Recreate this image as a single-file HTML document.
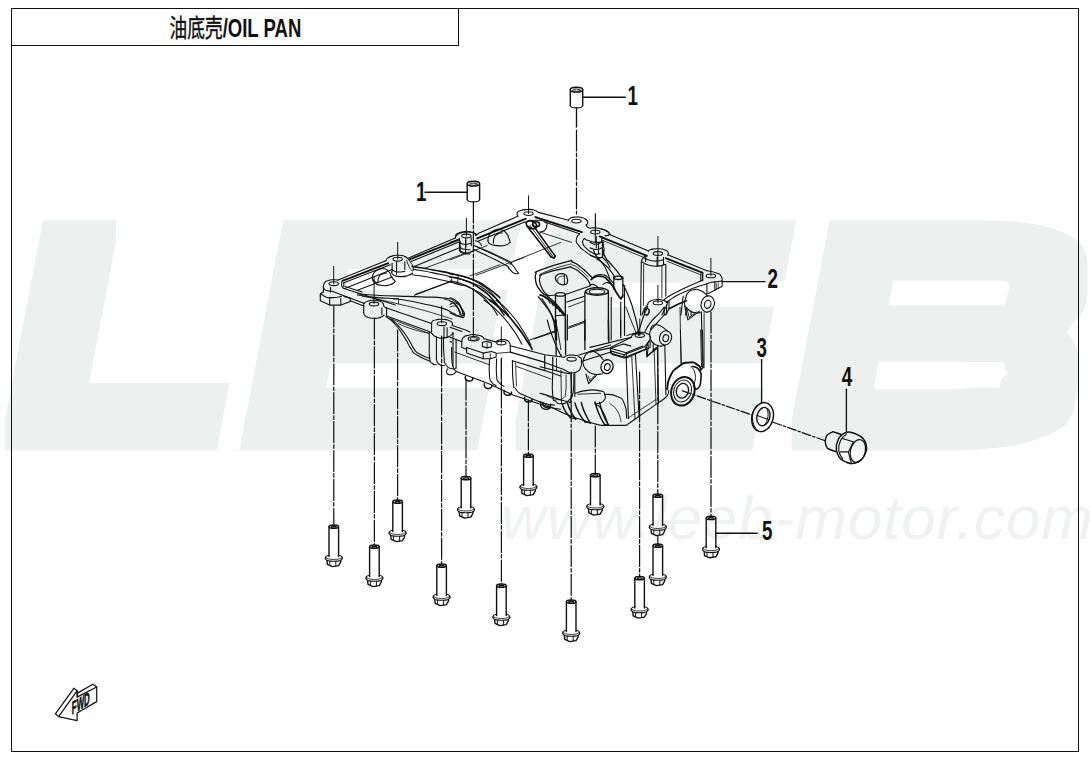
<!DOCTYPE html>
<html lang="zh"><head><meta charset="utf-8"><title>油底壳/OIL PAN</title>
<style>
html,body{margin:0;padding:0;background:#fff;}
body{width:1090px;height:760px;overflow:hidden;position:relative;font-family:"Liberation Sans","Noto Sans CJK SC",sans-serif;}
svg{position:absolute;left:0;top:0;display:block;}
</style></head><body>
<svg width="1090" height="760" viewBox="0 0 1090 760">
<rect width="1090" height="760" fill="#fff"/>
<g id="watermark">
<filter id="fat" filterUnits="userSpaceOnUse" x="-60" y="180" width="1260" height="310"><feMorphology operator="dilate" radius="4 14.65"/></filter>
<g filter="url(#fat)"><g transform="translate(0,435.35) skewX(-10.76) scale(1.56,1)"><text x="-13.8 140.1 313.5 490.4" y="0" font-family="Liberation Sans, sans-serif" font-weight="bold" font-size="291" fill="#eef0f0">LEEB</text></g></g>
<polygon points="89.2,382.7 229.6,382.7 228.2,390 87.8,390" fill="#eef0f0"/>
<polygon points="120.0,220.5 283.0,220.5 239.4,450.0 216.8,450.0 229.6,382.7 89.2,382.7" fill="#fff"/>
<polygon points="521.4,218.5 553.9,218.5 509.5,452.0 477.0,452.0" fill="#fff"/>
<polygon points="796.4,218.5 829.8,218.5 785.4,452.0 752.0,452.0" fill="#fff"/>
<path d="M1066.5,331.7 C1072,336 1077,345 1079,360 C1080,375 1078,395 1073.6,410 C1069,424 1058,439 1043,445.5 C1036,448.5 1030,450 1022,450.6 L1022,456 L1096,456 L1096,318 L1077,318 Z" fill="#fff"/>
<polygon points="330.8,363.5 494.8,363.5 490.3,387.6 326.3,387.6" fill="#fff"/>
<polygon points="601.3,363.5 769.8,363.5 765.3,387.6 596.8,387.6" fill="#fff"/>
<polygon points="616.6,283.0 785.1,283.0 780.6,307.0 612.1,307.0" fill="#fff"/>
<polygon points="774.3,306.0 780.8,306.0 769.7,364.0 763.2,364.0" fill="#fff"/>
<path d="M893.5,280.7 L1004,280.7 Q1011,281 1009.5,286 L1004.8,305.4 L888.6,305.4 Z" fill="#fff"/>
<path d="M878.7,362 L1000,362 Q1006.5,362.3 1005,367 L999.6,387.7 L873.8,387.7 Z" fill="#fff"/>
<polygon points="502.5,289.0 509.0,289.0 494.7,364.0 488.2,364.0" fill="#fff"/>
<polygon points="336.9,289.5 507.9,289.5 504.8,306.0 333.8,306.0" fill="#eef0f0"/>
<polygon points="348.8,269.0 512.8,269.0 508.8,290.0 344.8,290.0" fill="#fff"/>
<text x="501" y="538.5" font-family="Liberation Sans, sans-serif" font-style="italic" font-size="62" fill="#f0f1f1" textLength="592" lengthAdjust="spacing">www.leeb-motor.com</text>
</g>
<g id="frame" fill="none" stroke="#111" stroke-width="1.3" shape-rendering="crispEdges">
<rect x="11.5" y="8.5" width="1067" height="743"/>
<polyline points="11.5,45.5 458.5,45.5 458.5,8.5"/>
</g>
<g id="title" transform="translate(169.5,36.7) scale(0.695,1)"><text x="0" y="0" font-family="Liberation Sans, Noto Sans CJK SC, sans-serif" font-size="26.7" font-weight="bold" fill="#111"><tspan font-weight="normal" font-size="25.5" stroke="#111" stroke-width="0.45">油底壳</tspan>/OIL PAN</text></g>
<g id="drawing" fill="none" stroke="#111" stroke-width="1.2" stroke-linecap="round" stroke-linejoin="round">
<path d="M323.4,286.6C323.8,285.4 323.0,284.9 324.5,282.9C326.1,280.9 325.1,281.6 328.2,280.6C331.2,279.5 330.4,279.9 333.7,279.8C337.0,279.6 336.6,280.0 338.1,280.1" fill="none" stroke-width="1.10"/>
<polyline points="338.1,280.1 385.8,260.8" fill="none" stroke-width="1.10"/>
<path d="M385.8,260.8C386.5,259.9 385.6,259.7 387.7,258.1C389.8,256.6 388.8,257.0 392.1,256.1C395.5,255.1 393.7,255.3 397.7,255.3C401.6,255.3 400.7,255.0 404.0,256.1C407.3,257.1 406.4,257.7 407.6,258.5" fill="none" stroke-width="1.10"/>
<polyline points="407.6,258.5 411.1,256.9 455.3,237.9" fill="none" stroke-width="1.10"/>
<path d="M455.3,237.9C455.9,237.0 455.1,236.8 456.9,235.1C458.8,233.4 457.7,233.9 460.9,232.9C464.0,231.9 462.4,232.2 466.4,232.1C470.3,232.0 469.3,231.8 472.7,232.5C476.1,233.3 475.4,233.8 476.7,234.4" fill="none" stroke-width="1.10"/>
<polyline points="342.4,280.9 389.0,262.9" fill="none" stroke-width="1.83" stroke-dasharray="1.2 0.8"/>
<polyline points="343.8,282.8 390.3,264.8" fill="none" stroke-width="1.10"/>
<polyline points="409.2,259.6 459.3,239.5" fill="none" stroke-width="1.83" stroke-dasharray="1.2 0.8"/>
<polyline points="411.1,261.6 460.1,241.4" fill="none" stroke-width="1.10"/>
<polyline points="344.8,288.5 392.1,269.5" fill="none" stroke-width="1.10"/>
<polyline points="414.3,266.4 460.1,247.4" fill="none" stroke-width="1.10"/>
<path d="M342.4,280.9C342.1,281.8 341.6,281.6 341.6,283.7C341.6,285.8 341.4,285.6 342.4,287.2C343.3,288.8 343.8,288.0 344.4,288.5" fill="none" stroke-width="1.10"/>
<polyline points="343.8,282.8 343.8,286.6" fill="none" stroke-width="1.10"/>
<ellipse cx="333.7" cy="283.7" rx="4.7" ry="1.9" fill="none" stroke-width="1.10"/>
<ellipse cx="397.7" cy="259.2" rx="4.7" ry="1.9" fill="none" stroke-width="1.10"/>
<ellipse cx="466.4" cy="236.0" rx="4.7" ry="1.9" fill="none" stroke-width="1.10"/>
<line x1="333.7" y1="266.4" x2="333.7" y2="283.7" stroke-width="0.98"/>
<line x1="397.7" y1="242.3" x2="397.7" y2="259.2" stroke-width="0.98"/>
<line x1="466.4" y1="218.2" x2="466.4" y2="236.0" stroke-width="0.98"/>
<polyline points="392.1,263.2 392.1,271.9" fill="none" stroke-width="1.10"/>
<polyline points="396.6,261.9 396.6,274.2" fill="none" stroke-width="1.10"/>
<polyline points="404.8,261.9 404.8,269.5" fill="none" stroke-width="1.10"/>
<path d="M391.4,271.9C392.1,272.9 390.8,273.5 393.7,275.0C396.6,276.6 395.3,276.5 400.0,276.6C404.8,276.8 403.7,276.7 407.9,275.5C412.2,274.3 411.1,273.8 412.7,273.0" fill="none" stroke-width="1.10"/>
<path d="M392.1,269.5C393.7,270.3 392.7,271.2 396.9,271.9C401.1,272.5 402.2,271.6 404.8,271.4" fill="none" stroke-width="1.10"/>
<path d="M406.7,260.0C407.2,261.6 406.8,261.6 408.3,264.8C409.7,267.9 409.5,267.5 411.1,269.5C412.7,271.5 412.5,271.8 413.0,270.8C413.5,269.7 413.6,269.3 412.7,266.4C411.8,263.4 411.6,264.1 410.3,261.9C409.0,259.7 409.3,260.5 408.7,259.7" fill="none" stroke-width="0.98"/>
<path d="M372.4,279.0C372.7,277.4 371.6,277.1 373.2,274.2C374.8,271.4 374.0,272.1 377.1,270.3C380.3,268.5 379.0,268.5 382.7,268.7C386.4,269.0 385.3,268.5 388.2,271.1C391.1,273.7 389.3,273.5 391.4,276.6C393.5,279.8 393.5,279.3 394.5,280.6" fill="none" stroke-width="1.10"/>
<path d="M372.4,279.0C373.2,280.3 371.9,280.8 374.8,282.9C377.7,285.0 376.4,284.6 381.1,285.3C385.8,286.0 384.5,286.0 389.0,285.0C393.5,283.9 392.7,283.6 394.5,282.1C396.4,280.7 394.5,281.1 394.5,280.6" fill="none" stroke-width="1.10"/>
<path d="M377.9,282.1C378.2,280.6 377.4,280.0 378.7,277.4C380.0,274.8 379.2,275.7 381.9,274.2C384.5,272.8 385.0,273.4 386.6,273.0" fill="none" stroke-width="1.10"/>
<path d="M373.2,279.8C374.0,280.6 374.0,281.3 375.6,282.1C377.1,283.0 377.1,282.4 377.9,282.5" fill="none" stroke-width="1.10"/>
<polyline points="460.1,241.4 460.1,250.6" fill="none" stroke-width="1.10"/>
<polyline points="465.6,240.3 465.6,252.9" fill="none" stroke-width="1.10"/>
<path d="M459.3,250.2C460.3,251.1 458.9,251.7 462.4,252.9C466.0,254.2 467.5,253.7 470.0,254.0" fill="none" stroke-width="1.10"/>
<path d="M460.1,247.4C461.4,248.0 460.7,248.5 464.0,249.3C467.3,250.1 468.0,249.6 470.0,249.8" fill="none" stroke-width="1.10"/>
<path d="M323.4,286.6C323.8,287.5 323.0,287.9 324.5,289.3C326.1,290.7 325.6,290.2 328.2,290.9C330.7,291.5 330.8,291.2 332.1,291.3" fill="none" stroke-width="1.10"/>
<polyline points="332.1,291.3 364.5,303.5" fill="none" stroke-width="1.10"/>
<polyline points="323.4,286.6 323.4,292.1" fill="none" stroke-width="1.10"/>
<path d="M323.4,292.1C322.5,292.6 321.8,292.4 320.7,293.7C319.7,295.0 320.4,295.3 320.3,296.1" fill="none" stroke-width="1.10"/>
<polyline points="320.3,296.1 320.3,300.8 329.7,305.1 340.8,305.1 350.3,301.6 350.3,298.4 344.0,296.5" fill="none" stroke-width="1.10"/>
<polyline points="329.7,305.1 329.7,297.6" fill="none" stroke-width="1.10"/>
<polyline points="340.8,305.1 340.8,298.4" fill="none" stroke-width="1.10"/>
<path d="M320.7,293.7C322.4,294.7 322.8,295.5 325.8,296.9C328.8,298.2 326.1,297.5 329.7,297.6C333.4,297.8 332.9,297.7 336.9,297.2C340.8,296.6 340.0,296.4 341.6,296.1" fill="none" stroke-width="1.10"/>
<polyline points="330.5,287.4 330.5,292.1" fill="none" stroke-width="1.10"/>
<polyline points="350.3,300.8 363.7,306.0" fill="none" stroke-width="1.10"/>
<ellipse cx="374.0" cy="304.0" rx="4.7" ry="1.9" fill="none" stroke-width="1.10"/>
<path d="M363.7,306.0C364.0,305.0 362.7,304.6 364.5,302.9C366.3,301.1 365.8,301.6 369.2,300.8C372.7,300.0 371.1,300.2 374.8,300.3C378.5,300.5 377.4,300.1 380.3,301.3C383.2,302.5 382.4,303.1 383.5,304.0" fill="none" stroke-width="1.10"/>
<polyline points="363.7,306.0 363.7,313.0" fill="none" stroke-width="1.10"/>
<path d="M363.7,313.0C364.5,314.2 362.9,314.8 366.1,316.6C369.2,318.4 368.5,318.1 373.2,318.3C377.9,318.6 376.6,318.5 380.3,317.4C384.0,316.3 382.9,315.8 384.2,315.0" fill="none" stroke-width="1.10"/>
<polyline points="381.9,307.9 381.9,315.0" fill="none" stroke-width="1.10"/>
<polyline points="386.6,307.9 386.6,315.8" fill="none" stroke-width="1.10"/>
<path d="M383.5,304.0C383.7,304.9 383.2,305.3 384.2,306.7C385.3,308.0 385.8,307.5 386.6,307.9" fill="none" stroke-width="1.10"/>
<polyline points="386.6,307.9 431.6,323.4" fill="none" stroke-width="1.10"/>
<polyline points="386.6,316.1 429.3,331.6" fill="none" stroke-width="1.10"/>
<polyline points="389.0,318.2 428.5,333.2" fill="none" stroke-width="0.85"/>
<polyline points="344.0,288.6 395.3,305.1" fill="none" stroke-width="1.10"/>
<polyline points="345.1,286.6 362.1,292.1" fill="none" stroke-width="1.10"/>
<ellipse cx="441.9" cy="323.7" rx="4.7" ry="1.9" fill="none" stroke-width="1.10"/>
<path d="M431.6,323.4C431.9,322.7 430.9,322.6 432.4,321.3C434.0,320.1 433.0,320.4 436.4,319.8C439.8,319.1 438.5,319.0 442.7,319.3C446.9,319.6 445.9,319.3 449.0,320.6C452.2,321.8 451.1,321.2 452.2,322.9C453.2,324.6 452.2,324.7 452.2,325.6" fill="none" stroke-width="1.10"/>
<polyline points="431.6,323.4 431.6,332.4" fill="none" stroke-width="1.10"/>
<polyline points="444.0,326.9 444.0,337.9" fill="none" stroke-width="1.10"/>
<polyline points="447.1,327.7 447.1,337.1" fill="none" stroke-width="1.10"/>
<path d="M429.3,331.6C430.1,332.1 429.3,331.3 431.6,333.2C434.0,335.0 432.3,335.6 436.4,337.1C440.5,338.7 439.2,338.5 444.0,337.9C448.7,337.4 447.6,337.4 450.6,335.6C453.6,333.7 452.2,333.5 453.0,332.4" fill="none" stroke-width="1.10"/>
<polyline points="452.2,325.6 465.6,330.0 470.0,331.9" fill="none" stroke-width="1.10"/>
<path d="M385.8,316.6C389.0,319.2 389.0,317.4 395.3,324.5C401.6,331.6 399.5,329.8 404.8,337.9C410.1,346.1 406.9,343.2 411.1,349.0C415.3,354.8 411.1,351.2 417.4,355.3C423.7,359.4 425.9,359.3 430.1,361.3" fill="none" stroke-width="1.10"/>
<path d="M391.4,319.3C394.3,322.1 394.3,320.9 400.0,327.7C405.8,334.4 403.9,332.1 408.7,339.5C413.6,346.9 410.6,344.8 414.6,349.8C418.5,354.8 415.5,351.6 420.6,354.5C425.6,357.4 426.7,357.2 429.7,358.5" fill="none" stroke-width="1.10"/>
<path d="M398.5,323.7C403.2,325.6 402.7,326.1 412.7,329.2C422.7,332.4 423.2,331.9 428.5,333.2" fill="none" stroke-width="0.85"/>
<path d="M429.3,332.4C429.3,336.4 429.1,335.6 429.3,344.2C429.4,352.9 428.7,352.0 429.7,358.5C430.8,364.9 430.2,361.4 432.4,363.5C434.6,365.6 435.1,364.4 436.4,364.8" fill="none" stroke-width="1.10"/>
<polyline points="436.4,337.1 436.4,359.3" fill="none" stroke-width="1.10"/>
<path d="M436.4,359.3C437.2,360.8 436.1,361.9 438.8,364.0C441.4,366.1 442.4,365.1 444.3,365.6" fill="none" stroke-width="1.10"/>
<polyline points="453.0,333.2 453.0,366.4" fill="none" stroke-width="1.10"/>
<polyline points="456.1,339.5 456.1,367.9" fill="none" stroke-width="1.10"/>
<path d="M443.5,337.9C443.6,343.7 443.2,346.4 444.0,355.3C444.8,364.3 443.1,360.3 445.9,364.8C448.6,369.3 448.8,367.7 452.2,368.7C455.6,369.8 454.8,368.2 456.1,367.9" fill="none" stroke-width="1.10"/>
<path d="M447.4,368.7C447.2,370.1 446.1,370.7 446.7,372.7C447.2,374.6 446.9,374.1 449.0,374.6C451.1,375.1 450.6,375.2 453.0,374.3C455.3,373.4 455.1,372.7 456.1,371.9" fill="none" stroke-width="1.10"/>
<path d="M357.4,293.7C363.7,294.2 362.7,294.5 376.4,295.3C390.0,296.1 383.7,295.5 398.5,296.1C413.2,296.6 405.3,296.2 420.6,296.9C435.9,297.5 432.7,296.5 444.3,298.1C455.9,299.7 449.8,298.3 455.3,301.6C460.9,304.9 458.2,303.4 460.9,307.9C463.5,312.4 462.4,312.7 463.2,315.0" fill="none" stroke-width="1.10"/>
<path d="M357.4,295.0C364.2,295.9 364.2,296.2 377.9,297.6C391.6,299.1 384.2,297.4 398.5,299.2C412.7,301.1 406.4,300.3 420.6,303.2C434.8,306.1 430.6,304.8 441.1,307.9C451.7,311.1 446.1,309.9 452.2,312.7C458.2,315.4 455.6,315.3 459.3,316.1C463.0,316.9 461.9,315.4 463.2,315.0" fill="none" stroke-width="1.10"/>
<path d="M362.1,296.1C368.5,297.4 369.0,297.4 381.1,300.0C393.2,302.6 385.3,300.8 398.5,304.0C411.6,307.1 406.9,305.8 420.6,309.5C434.3,313.2 429.0,311.9 439.5,315.0C450.1,318.2 448.0,317.7 452.2,319.0" fill="none" stroke-width="0.85"/>
<path d="M444.3,299.2C447.2,300.3 448.2,299.2 453.0,302.4C457.7,305.5 456.1,304.8 458.5,308.7C460.9,312.7 459.6,312.4 460.1,314.2" fill="none" stroke-width="0.85"/>
<polyline points="393.7,299.2 398.5,298.4 398.5,304.0" fill="none" stroke-width="0.85"/>
<polyline points="357.4,290.2 392.1,277.1" fill="none" stroke-width="1.10"/>
<polyline points="414.3,295.3 452.2,281.1" fill="none" stroke-width="1.10"/>
<path d="M455.5,236.4C456.1,235.5 455.0,235.1 457.1,233.7C459.2,232.3 458.4,232.8 461.8,232.1C465.3,231.4 463.7,231.5 467.4,231.7C471.1,231.8 470.0,231.4 472.9,232.6C475.8,233.8 475.0,234.4 476.1,235.3" fill="none" stroke-width="1.10"/>
<polyline points="476.1,235.3 479.2,232.9 517.9,216.3" fill="none" stroke-width="1.10"/>
<path d="M517.9,216.3C517.7,215.3 516.4,215.0 517.1,213.2C517.9,211.3 516.9,212.0 520.3,210.8C523.7,209.6 522.9,209.8 527.4,209.5C531.9,209.3 530.0,209.1 533.7,210.0C537.4,211.0 536.9,211.6 538.5,212.4" fill="none" stroke-width="1.10"/>
<ellipse cx="528.5" cy="213.6" rx="4.7" ry="1.9" fill="none" stroke-width="1.10"/>
<line x1="528.5" y1="195.8" x2="528.5" y2="213.6" stroke-width="0.98"/>
<polyline points="538.5,212.4 568.5,220.3" fill="none" stroke-width="1.10"/>
<path d="M568.5,220.3C569.0,219.6 568.0,219.4 570.1,218.4C572.2,217.3 571.1,217.4 574.8,217.1C578.5,216.8 577.4,216.6 581.1,217.4C584.8,218.2 583.6,217.7 585.9,219.5C588.1,221.2 587.7,220.8 587.8,222.6C587.9,224.5 586.7,224.2 586.2,225.0" fill="none" stroke-width="1.10"/>
<ellipse cx="576.4" cy="221.1" rx="4.7" ry="1.9" fill="none" stroke-width="1.10"/>
<path d="M586.2,225.0C587.1,226.0 586.5,226.9 589.0,227.9C591.5,228.8 589.5,227.5 593.8,227.9C598.0,228.2 596.9,227.5 601.7,229.0C606.4,230.4 605.2,230.3 608.0,232.1C610.8,234.0 609.3,233.7 610.0,234.5" fill="none" stroke-width="1.10"/>
<ellipse cx="595.3" cy="232.1" rx="4.7" ry="1.9" fill="none" stroke-width="1.10"/>
<line x1="595.3" y1="214.0" x2="595.3" y2="242.4" stroke-width="0.98"/>
<polyline points="477.2,238.4 525.8,218.7" fill="none" stroke-width="1.95" stroke-dasharray="1.2 0.8"/>
<polyline points="535.3,217.1 581.9,232.1" fill="none" stroke-width="1.95" stroke-dasharray="1.2 0.8"/>
<polyline points="478.4,241.1 524.2,222.2" fill="none" stroke-width="1.10"/>
<polyline points="544.8,221.9 579.5,233.7" fill="none" stroke-width="1.10"/>
<path d="M487.9,240.8C488.4,238.7 487.4,237.9 489.5,234.5C491.6,231.1 490.5,232.1 494.2,230.5C497.9,229.0 496.6,229.0 500.6,229.8C504.5,230.5 503.2,229.8 506.1,232.9C509.0,236.1 507.9,236.1 509.2,239.2C510.6,242.4 509.8,241.3 510.0,242.4" fill="none" stroke-width="1.10"/>
<path d="M487.9,240.8C488.7,241.9 487.1,242.4 490.3,244.0C493.4,245.6 492.4,245.1 497.4,245.6C502.4,246.0 501.1,246.3 505.3,245.2C509.5,244.2 508.5,243.3 510.0,242.4" fill="none" stroke-width="1.10"/>
<path d="M493.4,243.2C493.7,241.3 492.9,240.7 494.2,237.7C495.6,234.7 494.8,235.8 497.4,234.2C500.0,232.6 500.6,233.3 502.1,232.9" fill="none" stroke-width="1.10"/>
<polyline points="459.5,238.4 459.5,249.5" fill="none" stroke-width="1.10"/>
<polyline points="465.8,238.4 465.8,247.1" fill="none" stroke-width="1.10"/>
<polyline points="471.3,237.7 471.3,245.6" fill="none" stroke-width="1.10"/>
<path d="M459.5,242.4C461.1,243.0 460.3,244.0 464.2,244.3C468.2,244.6 469.0,243.6 471.3,243.2" fill="none" stroke-width="1.10"/>
<path d="M459.5,249.5C460.5,250.4 459.5,251.1 462.6,252.2C465.8,253.2 465.3,253.3 469.0,252.7C472.6,252.0 472.1,251.1 473.7,250.3" fill="none" stroke-width="1.10"/>
<path d="M473.7,245.2C484.2,250.0 492.7,253.1 505.3,259.5C517.9,265.8 507.9,260.5 511.6,264.2C515.3,267.9 514.0,267.5 516.4,270.5C518.7,273.5 517.9,272.3 518.7,273.2" fill="none" stroke-width="1.10"/>
<path d="M473.7,249.5C483.2,254.1 490.3,256.9 502.1,263.2C514.0,269.6 505.6,265.5 509.2,268.6C512.9,271.8 510.3,271.0 513.2,272.7C516.1,274.4 516.4,273.4 517.9,273.7" fill="none" stroke-width="1.10"/>
<path d="M476.9,246.8C486.1,251.2 493.4,254.2 504.5,260.1C515.6,266.0 508.2,263.0 510.0,264.5" fill="none" stroke-width="0.85"/>
<path d="M475.3,240.8C476.6,241.3 477.1,240.8 479.2,242.4C481.3,244.0 480.8,244.5 481.6,245.6" fill="none" stroke-width="1.10"/>
<polyline points="526.9,226.1 551.1,256.9" fill="none" stroke-width="1.59"/>
<polyline points="532.5,224.5 555.2,256.1" fill="none" stroke-width="1.59"/>
<polyline points="529.8,225.3 553.0,256.6" fill="none" stroke-width="0.85"/>
<polyline points="551.1,256.9 554.3,258.2 555.2,256.1" fill="none" stroke-width="1.46"/>
<ellipse cx="531.4" cy="224.7" rx="5.5" ry="3.5" fill="none" stroke-width="1.83" transform="rotate(25 531.4 224.7)"/>
<ellipse cx="536.1" cy="224.2" rx="3.5" ry="2.5" fill="none" stroke-width="1.46"/>
<path d="M524.2,222.2C527.9,221.5 528.5,220.4 535.3,220.3C542.2,220.2 541.0,219.7 544.8,221.9C548.6,224.0 546.9,223.5 546.7,226.6C546.4,229.6 544.9,229.5 544.0,231.0" fill="none" stroke-width="1.10"/>
<polyline points="544.0,231.0 540.0,232.1" fill="none" stroke-width="1.10"/>
<polyline points="450.0,259.8 487.1,245.6" fill="none" stroke-width="0.85"/>
<polyline points="476.1,275.3 524.2,257.4" fill="none" stroke-width="0.85"/>
<polyline points="513.2,261.4 560.6,242.4" fill="none" stroke-width="0.85"/>
<polyline points="540.0,232.1 571.6,242.4" fill="none" stroke-width="0.85"/>
<polyline points="450.0,242.4 459.5,238.9" fill="none" stroke-width="0.85"/>
<path d="M579.5,233.7C578.5,235.5 576.6,235.3 576.4,239.2C576.1,243.2 575.6,241.3 578.8,245.6C581.9,249.8 580.3,247.9 585.9,251.9C591.4,255.8 589.8,255.6 595.3,257.4C600.9,259.2 600.1,257.4 602.4,257.4" fill="none" stroke-width="1.10"/>
<path d="M584.3,238.4C583.8,239.8 582.2,239.2 582.7,242.4C583.2,245.6 582.2,244.2 585.9,247.9C589.5,251.6 589.0,251.5 593.8,253.5C598.5,255.4 598.0,253.7 600.1,253.8" fill="none" stroke-width="1.10"/>
<polyline points="602.4,242.4 602.4,257.4" fill="none" stroke-width="1.10"/>
<polyline points="598.5,242.4 598.5,253.8" fill="none" stroke-width="1.10"/>
<path d="M584.3,238.4C585.9,239.2 584.3,239.5 589.0,240.8C593.8,242.1 593.8,242.4 598.5,242.4C603.2,242.4 601.7,241.3 603.2,240.8" fill="none" stroke-width="1.10"/>
<path d="M602.4,257.4C603.8,258.7 603.9,257.9 606.4,261.4C608.9,264.8 608.8,265.6 610.0,267.7" fill="none" stroke-width="1.10"/>
<path d="M596.9,259.0C599.0,260.8 599.6,259.5 603.2,264.5C606.9,269.5 605.7,268.7 608.0,274.0C610.2,279.3 609.3,278.2 610.0,280.3" fill="none" stroke-width="1.10"/>
<path d="M450.0,274.0C455.3,275.0 455.3,273.5 465.8,277.1C476.3,280.8 472.1,278.7 481.6,285.0C491.1,291.4 486.9,288.2 494.2,296.1C501.6,304.0 499.0,302.4 503.7,308.7C508.5,315.1 506.9,313.0 508.5,315.1" fill="none" stroke-width="1.10"/>
<path d="M450.0,277.1C454.7,278.2 454.2,276.5 464.2,280.3C474.2,284.1 470.5,282.1 480.0,288.5C489.5,294.9 485.4,291.8 492.7,299.6C499.9,307.4 498.0,306.7 501.8,311.9C505.6,317.1 503.3,314.0 504.0,315.1" fill="none" stroke-width="1.59"/>
<path d="M450.0,281.1C454.2,282.2 453.7,280.6 462.6,284.3C471.6,287.9 467.9,285.6 476.9,292.2C485.8,298.7 482.6,296.4 489.5,304.0C496.3,311.6 494.8,311.4 497.4,315.1" fill="none" stroke-width="1.10"/>
<path d="M450.0,297.7C452.1,298.7 452.6,297.7 456.3,300.8C460.0,304.0 458.7,302.4 461.1,307.2C463.4,311.9 462.6,312.4 463.4,315.1" fill="none" stroke-width="1.10"/>
<path d="M450.0,301.2C451.6,302.1 451.8,301.0 454.7,304.0C457.6,307.1 456.8,306.6 458.7,310.3C460.5,314.0 459.7,313.5 460.3,315.1" fill="none" stroke-width="1.10"/>
<path d="M601.1,229.0C602.6,229.5 603.2,229.2 605.8,230.5C608.4,231.9 608.0,231.3 609.0,232.9C609.9,234.5 610.0,234.3 608.6,235.3C607.3,236.2 606.2,235.6 605.0,235.8" fill="none" stroke-width="1.10"/>
<polyline points="609.0,234.2 648.5,251.1" fill="none" stroke-width="1.10"/>
<path d="M648.5,251.1C649.2,250.6 647.7,250.3 650.8,249.5C654.0,248.7 653.2,248.6 657.9,248.7C662.7,248.9 661.6,248.7 665.0,250.0C668.5,251.3 667.3,251.0 668.2,252.7C669.1,254.3 667.9,254.2 667.7,255.0" fill="none" stroke-width="1.10"/>
<ellipse cx="657.9" cy="253.5" rx="4.7" ry="1.9" fill="none" stroke-width="1.10"/>
<line x1="657.9" y1="236.4" x2="657.9" y2="266.1" stroke-width="0.98"/>
<polyline points="667.7,254.7 706.9,270.8" fill="none" stroke-width="1.10"/>
<path d="M706.9,270.8C710.1,271.5 711.6,271.1 716.4,272.9C721.1,274.6 719.2,273.3 721.1,276.0C723.0,278.8 721.8,279.4 722.1,281.1" fill="none" stroke-width="1.10"/>
<ellipse cx="710.9" cy="275.9" rx="4.7" ry="1.9" fill="none" stroke-width="1.10"/>
<line x1="710.9" y1="258.2" x2="710.9" y2="275.9" stroke-width="0.98"/>
<line x1="595.5" y1="214.0" x2="595.5" y2="232.1" stroke-width="0.98"/>
<polyline points="722.1,281.1 722.1,286.3 714.8,290.3 707.7,293.7" fill="none" stroke-width="1.10"/>
<polyline points="714.8,281.9 714.8,290.3" fill="none" stroke-width="1.10"/>
<polyline points="706.9,283.8 706.9,293.7" fill="none" stroke-width="1.10"/>
<polyline points="716.4,283.5 716.4,289.0" fill="none" stroke-width="0.73"/>
<polyline points="718.3,282.7 718.3,288.2" fill="none" stroke-width="0.73"/>
<line x1="722.1" y1="281.6" x2="765.0" y2="281.6" stroke-width="1.22"/>
<polyline points="599.5,236.4 646.9,255.8" fill="none" stroke-width="1.95" stroke-dasharray="1.2 0.8"/>
<polyline points="665.8,258.2 702.5,272.7" fill="none" stroke-width="1.95" stroke-dasharray="1.2 0.8"/>
<polyline points="702.5,272.7 702.5,280.3" fill="none" stroke-width="1.71"/>
<polyline points="700.6,274.0 700.6,281.1" fill="none" stroke-width="0.85"/>
<polyline points="601.8,240.0 643.7,257.4" fill="none" stroke-width="0.85"/>
<polyline points="667.4,261.4 700.6,274.8" fill="none" stroke-width="0.85"/>
<path d="M722.1,281.1C719.6,281.4 719.9,281.0 714.8,281.9C709.7,282.8 716.9,280.5 706.9,283.8C696.9,287.0 697.4,286.1 684.8,291.7C672.1,297.3 674.8,296.9 669.0,300.5C663.2,304.1 667.9,301.8 667.4,302.4" fill="none" stroke-width="1.10"/>
<path d="M702.5,280.3C696.6,282.8 695.4,282.9 684.8,287.9C674.1,292.9 677.4,291.4 670.6,295.3C663.7,299.2 666.4,298.2 664.2,299.6" fill="none" stroke-width="1.10"/>
<path d="M647.7,304.3C648.5,303.3 647.1,302.7 650.0,301.2C652.9,299.6 652.1,299.9 656.4,299.6C660.6,299.2 659.0,299.1 662.7,300.1C666.4,301.0 665.8,301.6 667.4,302.4" fill="none" stroke-width="1.10"/>
<ellipse cx="657.9" cy="302.9" rx="4.7" ry="1.9" fill="none" stroke-width="1.10"/>
<line x1="657.9" y1="285.4" x2="657.9" y2="302.9" stroke-width="0.98"/>
<path d="M647.7,304.3C646.9,305.5 646.9,305.4 645.3,308.0C643.7,310.5 644.0,309.5 642.9,311.9C641.9,314.3 642.4,314.0 642.1,315.1" fill="none" stroke-width="1.10"/>
<path d="M667.4,302.4C667.1,303.5 667.7,303.0 666.6,305.6C665.6,308.2 665.8,307.2 664.2,310.3C662.7,313.5 662.7,313.5 661.9,315.1" fill="none" stroke-width="1.10"/>
<polyline points="669.0,300.5 669.0,308.7 665.8,315.1" fill="none" stroke-width="1.10"/>
<polyline points="669.0,308.7 678.5,304.0 686.4,300.8" fill="none" stroke-width="1.71"/>
<polyline points="641.3,262.1 640.6,315.1" fill="none" stroke-width="1.10"/>
<polyline points="665.8,264.5 665.8,296.1" fill="none" stroke-width="1.10"/>
<path d="M641.3,262.1C641.9,260.8 641.5,260.1 642.9,258.2C644.3,256.2 644.7,256.9 645.6,256.3" fill="none" stroke-width="1.10"/>
<polyline points="645.6,255.8 645.6,261.4" fill="none" stroke-width="1.10"/>
<polyline points="663.5,257.4 663.5,264.5" fill="none" stroke-width="1.10"/>
<polyline points="657.1,257.4 657.1,266.1" fill="none" stroke-width="1.10"/>
<path d="M642.1,262.1C644.8,263.2 644.2,264.2 650.0,265.5C655.8,266.7 654.3,266.4 659.5,265.9C664.7,265.5 663.5,264.8 665.5,264.2" fill="none" stroke-width="1.10"/>
<path d="M644.5,258.2C646.9,259.0 646.6,259.9 651.6,260.7C656.6,261.6 655.6,261.1 659.5,260.7C663.5,260.3 662.1,259.9 663.5,259.5" fill="none" stroke-width="1.10"/>
<polyline points="661.9,266.1 661.9,297.7" fill="none" stroke-width="0.85"/>
<polyline points="643.7,264.5 643.4,305.6" fill="none" stroke-width="0.85"/>
<ellipse cx="707.7" cy="304.0" rx="6.6" ry="8.2" fill="none" stroke-width="1.10" transform="rotate(15 707.7 304.0)"/>
<ellipse cx="707.7" cy="304.3" rx="3.2" ry="4.2" fill="none" stroke-width="1.10" transform="rotate(15 707.7 304.3)"/>
<path d="M685.6,298.5C686.4,296.6 685.3,295.8 687.9,292.9C690.6,290.1 689.3,290.6 693.5,289.8C697.7,289.0 695.8,288.6 700.6,290.6C705.3,292.6 705.3,294.1 707.7,295.8" fill="none" stroke-width="1.10"/>
<path d="M686.7,308.0C688.7,309.4 688.1,310.6 692.7,312.2C697.3,313.8 698.0,312.5 700.6,312.7" fill="none" stroke-width="1.10"/>
<path d="M685.6,298.5C685.2,300.3 684.1,300.8 684.5,304.0C684.8,307.2 685.9,306.6 686.7,308.0" fill="none" stroke-width="1.10"/>
<polyline points="683.2,296.1 680.8,315.1" fill="none" stroke-width="1.10"/>
<polyline points="686.4,308.7 685.6,315.1" fill="none" stroke-width="1.10"/>
<polyline points="691.1,311.1 691.1,315.1" fill="none" stroke-width="1.10"/>
<polyline points="596.3,236.4 596.3,247.9" fill="none" stroke-width="1.10"/>
<polyline points="601.8,236.4 601.8,242.4" fill="none" stroke-width="1.10"/>
<path d="M590.0,242.4C592.1,243.0 592.4,244.3 596.3,244.3C600.3,244.3 599.5,242.1 601.8,242.4C604.2,242.7 602.9,241.4 603.4,245.2C604.0,249.0 604.7,249.7 603.4,253.8C602.1,257.9 604.0,257.1 599.5,257.6C595.0,258.0 593.2,255.9 590.0,255.0" fill="none" stroke-width="1.10"/>
<path d="M590.0,247.9C592.1,248.4 592.4,249.5 596.3,249.5C600.3,249.5 600.0,248.4 601.8,247.9" fill="none" stroke-width="1.10"/>
<ellipse cx="473.7" cy="338.7" rx="5.5" ry="2.2" fill="none" stroke-width="1.10"/>
<ellipse cx="473.7" cy="339.0" rx="3.8" ry="1.4" fill="none" stroke-width="0.85"/>
<path d="M461.8,341.4C462.4,340.1 461.1,339.5 463.4,337.4C465.8,335.4 465.0,336.1 469.0,335.2C472.9,334.3 471.1,334.4 475.3,334.8C479.5,335.1 478.7,335.0 481.6,336.3C484.5,337.7 483.2,337.9 484.0,338.7" fill="none" stroke-width="1.10"/>
<polyline points="461.8,341.4 461.8,347.4 466.6,349.3" fill="none" stroke-width="1.10"/>
<polyline points="450.0,327.2 461.8,331.6" fill="none" stroke-width="1.10"/>
<polyline points="450.0,337.3 461.8,341.7" fill="none" stroke-width="1.10"/>
<polyline points="484.0,338.7 495.8,341.9" fill="none" stroke-width="1.10"/>
<ellipse cx="501.3" cy="343.0" rx="4.7" ry="1.9" fill="none" stroke-width="1.10"/>
<path d="M495.8,341.9C496.9,341.2 495.8,340.7 499.0,340.0C502.1,339.3 501.9,339.0 505.3,339.8C508.7,340.6 507.6,340.3 509.2,342.3C510.9,344.3 510.0,344.7 510.3,345.8" fill="none" stroke-width="1.10"/>
<line x1="501.3" y1="326.9" x2="501.3" y2="343.0" stroke-width="0.98"/>
<polyline points="482.4,342.3 482.4,346.6 487.1,347.9 491.4,346.8 491.4,342.7 487.1,341.4 482.4,342.3" fill="none" stroke-width="1.10"/>
<polyline points="487.1,343.4 487.1,347.9" fill="none" stroke-width="0.85"/>
<polyline points="466.6,347.4 483.2,353.1 483.2,358.8 466.6,352.9 466.6,347.4" fill="none" stroke-width="1.10"/>
<polyline points="483.2,353.1 491.4,351.5 496.1,353.1 496.1,356.9 490.3,358.8 483.2,358.8" fill="none" stroke-width="1.10"/>
<polyline points="490.3,353.7 490.3,358.8" fill="none" stroke-width="0.85"/>
<polyline points="510.3,345.8 544.8,354.8 564.1,357.2" fill="none" stroke-width="1.10"/>
<path d="M564.1,357.2C565.5,356.6 564.9,355.9 568.5,355.3C572.1,354.7 571.1,354.7 574.8,355.3C578.5,355.9 577.3,355.3 579.5,357.2C581.8,359.0 581.1,357.2 581.4,360.8C581.8,364.4 582.2,364.2 580.5,367.9C578.8,371.6 579.9,370.1 576.4,371.9C572.9,373.6 572.2,372.7 570.1,373.1" fill="none" stroke-width="1.10"/>
<ellipse cx="571.6" cy="359.2" rx="4.7" ry="1.9" fill="none" stroke-width="1.10"/>
<polyline points="510.3,352.1 544.8,362.4 563.7,369.5 570.1,373.1" fill="none" stroke-width="1.10"/>
<polyline points="496.6,353.4 510.3,352.1" fill="none" stroke-width="0.85"/>
<polyline points="510.3,345.8 510.3,352.1" fill="none" stroke-width="1.10"/>
<polyline points="512.4,360.8 544.8,370.6 560.6,376.1" fill="none" stroke-width="1.10"/>
<polyline points="544.8,355.3 544.8,370.6" fill="none" stroke-width="0.85"/>
<polyline points="552.7,356.9 552.7,373.5" fill="none" stroke-width="0.85"/>
<path d="M451.6,347.4C451.7,351.6 451.3,353.2 451.9,360.0C452.5,366.9 452.0,364.1 453.5,367.9C454.9,371.7 455.4,370.2 456.3,371.4" fill="none" stroke-width="1.10"/>
<polyline points="450.0,341.4 451.6,342.3" fill="none" stroke-width="1.10"/>
<polyline points="456.3,371.4 489.5,384.0 513.2,395.1 532.1,401.4 551.1,407.7 560.6,409.3" fill="none" stroke-width="1.10"/>
<polyline points="454.7,352.1 489.5,364.8" fill="none" stroke-width="0.85"/>
<path d="M489.5,359.2C489.5,364.8 488.7,368.1 489.5,375.8C490.3,383.6 489.7,379.2 491.9,382.5C494.1,385.7 494.7,384.6 496.1,385.6" fill="none" stroke-width="1.10"/>
<path d="M496.6,358.8C496.6,364.5 495.8,367.9 496.6,375.8C497.4,383.7 496.5,378.9 499.0,382.5C501.4,386.0 502.3,385.1 504.0,386.4" fill="none" stroke-width="1.10"/>
<polyline points="501.3,360.3 501.3,386.1" fill="none" stroke-width="0.85"/>
<path d="M512.4,360.8C512.7,367.9 512.1,372.8 513.2,382.1C514.2,391.5 513.3,385.0 515.6,388.8C517.8,392.6 518.4,391.9 519.8,393.5" fill="none" stroke-width="1.10"/>
<polyline points="515.6,363.2 516.4,386.1" fill="none" stroke-width="0.85"/>
<polyline points="516.4,366.4 551.1,379.0" fill="none" stroke-width="0.85"/>
<path d="M552.7,373.5C552.7,380.6 551.6,385.5 552.7,394.8C553.7,404.1 553.1,398.4 555.8,401.4C558.6,404.4 557.1,403.6 560.9,403.8C564.7,404.0 563.8,404.0 567.2,402.1C570.6,400.1 569.7,407.2 571.0,397.9C572.3,388.7 571.0,382.1 571.0,374.2" fill="none" stroke-width="1.10"/>
<polyline points="560.9,370.3 561.5,403.5" fill="none" stroke-width="0.85"/>
<polyline points="574.8,373.0 574.8,396.4" fill="none" stroke-width="1.10"/>
<path d="M519.8,393.5C523.9,395.3 523.8,395.4 532.1,398.7C540.5,402.1 537.4,401.4 544.8,403.5C552.2,405.6 551.1,404.5 554.3,405.1" fill="none" stroke-width="1.10"/>
<path d="M465.5,376.3C465.6,377.4 464.6,377.9 465.8,379.5C467.0,381.0 466.9,380.8 469.0,381.0C471.1,381.3 470.9,381.1 472.1,380.1C473.4,379.0 472.5,378.6 472.7,377.9" fill="none" stroke-width="1.46"/>
<path d="M484.4,383.7C484.5,384.8 483.6,385.3 484.8,386.9C485.9,388.5 485.8,388.3 487.9,388.5C490.0,388.7 489.8,388.6 491.1,387.5C492.3,386.5 491.5,386.0 491.7,385.3" fill="none" stroke-width="1.46"/>
<path d="M504.2,390.5C504.3,391.6 503.3,392.1 504.5,393.7C505.7,395.3 505.6,395.1 507.7,395.3C509.8,395.5 509.6,395.4 510.8,394.3C512.1,393.3 511.2,392.8 511.5,392.1" fill="none" stroke-width="1.46"/>
<path d="M524.7,397.3C524.8,398.4 523.9,398.9 525.0,400.5C526.2,402.1 526.1,401.8 528.2,402.1C530.3,402.3 530.1,402.2 531.4,401.1C532.6,400.1 531.8,399.6 532.0,398.9" fill="none" stroke-width="1.46"/>
<path d="M543.2,402.7C543.3,403.7 542.4,404.3 543.5,405.8C544.7,407.4 544.6,407.2 546.7,407.4C548.8,407.6 548.6,407.5 549.8,406.5C551.1,405.4 550.3,405.0 550.5,404.3" fill="none" stroke-width="1.46"/>
<path d="M489.5,300.0C493.7,303.3 493.2,301.3 502.1,309.8C511.1,318.3 507.9,315.1 516.4,325.6C524.8,336.1 522.1,333.5 527.4,341.4C532.7,349.3 530.6,346.7 532.1,349.3" fill="none" stroke-width="1.71"/>
<path d="M496.1,300.0C500.8,304.3 501.2,302.8 510.0,313.0C518.9,323.1 515.7,319.6 522.7,330.3C529.6,341.0 528.1,340.1 530.9,345.0" fill="none" stroke-width="1.10"/>
<path d="M484.0,300.0C488.4,303.7 488.2,301.8 497.4,311.1C506.6,320.3 503.4,316.6 511.6,327.6C519.8,338.7 518.5,338.7 521.9,344.2" fill="none" stroke-width="1.10"/>
<path d="M450.0,304.4C452.1,304.0 452.4,301.7 456.3,303.2C460.3,304.6 459.2,304.5 461.8,308.7C464.5,312.9 465.0,313.1 464.2,315.8C463.4,318.5 464.2,317.7 459.5,316.7C454.7,315.8 453.2,314.2 450.0,313.0" fill="none" stroke-width="1.10"/>
<path d="M450.0,307.1C451.8,306.8 452.4,305.1 455.5,306.3C458.7,307.5 457.5,307.7 459.5,310.7C461.4,313.8 460.7,313.9 461.4,315.5" fill="none" stroke-width="0.85"/>
<path d="M647.7,306.3C646.1,310.3 646.1,310.0 642.9,318.2C639.8,326.3 641.5,325.4 638.2,330.8C634.9,336.2 634.7,333.2 633.0,334.4" fill="none" stroke-width="1.10"/>
<path d="M664.2,307.1C662.7,309.1 664.0,308.0 659.5,313.0C655.0,318.0 655.7,316.0 650.8,322.1C646.0,328.2 646.9,328.2 645.0,331.3" fill="none" stroke-width="1.10"/>
<polyline points="664.2,307.1 664.2,315.0 656.4,323.7 650.8,330.0" fill="none" stroke-width="1.10"/>
<polyline points="666.6,304.7 666.6,313.4 664.2,315.0" fill="none" stroke-width="1.10"/>
<ellipse cx="646.6" cy="311.8" rx="2.2" ry="3.2" fill="none" stroke-width="1.10" transform="rotate(30 646.6 311.8)"/>
<path d="M643.7,309.5C644.2,309.0 643.6,307.9 645.3,307.9C647.0,307.9 647.6,307.4 648.8,309.5C649.9,311.6 649.7,312.1 648.8,314.2C647.9,316.3 647.0,315.3 646.1,315.8" fill="none" stroke-width="0.85"/>
<ellipse cx="639.8" cy="335.5" rx="4.7" ry="1.9" fill="none" stroke-width="1.10"/>
<path d="M630.8,337.6C631.9,336.4 631.0,335.7 634.2,334.0C637.5,332.2 636.3,332.5 640.6,332.4C644.8,332.2 643.6,331.9 646.9,333.5C650.1,335.1 649.7,334.5 650.3,337.1C651.0,339.8 649.3,340.0 648.8,341.4" fill="none" stroke-width="1.10"/>
<line x1="639.8" y1="319.0" x2="639.8" y2="335.5" stroke-width="0.98"/>
<ellipse cx="665.5" cy="337.9" rx="6.0" ry="7.2" fill="none" stroke-width="1.10" transform="rotate(15 665.5 337.9)"/>
<ellipse cx="665.8" cy="338.2" rx="2.8" ry="3.6" fill="none" stroke-width="1.10" transform="rotate(15 665.8 338.2)"/>
<path d="M650.8,328.8C651.7,327.6 650.6,326.3 653.5,325.3C656.4,324.2 654.9,323.7 659.5,325.6C664.1,327.4 664.8,329.1 667.4,330.8" fill="none" stroke-width="1.10"/>
<path d="M651.9,341.9C653.9,343.2 653.7,344.7 657.9,345.8C662.1,346.9 662.4,345.4 664.6,345.2" fill="none" stroke-width="1.10"/>
<path d="M650.8,328.8C650.5,331.0 649.3,331.2 649.7,335.5C650.1,339.9 651.2,339.8 651.9,341.9" fill="none" stroke-width="1.10"/>
<polyline points="630.8,337.6 610.5,347.4 610.5,350.9 624.0,354.7 644.5,346.8 648.8,341.4" fill="none" stroke-width="1.10"/>
<polyline points="590.0,347.4 631.4,337.3" fill="none" stroke-width="1.10"/>
<polyline points="590.0,352.1 610.5,347.9" fill="none" stroke-width="1.10"/>
<polyline points="624.0,354.7 624.0,357.8" fill="none" stroke-width="1.10"/>
<polyline points="610.5,350.9 612.1,354.5 624.0,357.8 645.3,349.3 648.8,341.4" fill="none" stroke-width="1.10"/>
<polyline points="646.1,347.4 646.9,356.9 653.2,350.6" fill="none" stroke-width="1.10"/>
<polyline points="653.2,342.7 653.2,350.6 656.4,347.4" fill="none" stroke-width="1.10"/>
<polyline points="680.0,307.1 681.0,363.2" fill="none" stroke-width="0.85"/>
<polyline points="701.4,311.8 702.5,368.2" fill="none" stroke-width="1.10"/>
<polyline points="704.1,312.6 704.1,367.9" fill="none" stroke-width="0.85"/>
<polyline points="684.8,306.3 687.9,319.9 699.3,311.1" fill="none" stroke-width="1.10"/>
<polyline points="687.2,309.8 689.2,317.4 696.2,312.0" fill="none" stroke-width="0.85"/>
<ellipse cx="682.9" cy="391.3" rx="11.5" ry="14.5" fill="none" stroke-width="1.95" transform="rotate(18 682.9 391.3)"/>
<ellipse cx="682.4" cy="390.8" rx="6.0" ry="7.5" fill="none" stroke-width="1.34" transform="rotate(18 682.4 390.8)"/>
<ellipse cx="682.6" cy="391.0" rx="8.8" ry="11.2" fill="none" stroke-width="0.98" transform="rotate(18 682.6 391.0)"/>
<path d="M667.1,389.3C668.1,384.9 666.5,383.7 670.3,376.1C674.0,368.6 672.5,371.2 678.5,366.7C684.5,362.1 681.8,363.2 688.3,362.6C694.7,361.9 693.5,362.3 697.7,364.8C702.0,367.2 699.8,368.1 700.9,369.8" fill="none" stroke-width="1.95"/>
<path d="M692.7,366.4C694.8,367.5 696.3,365.6 699.0,369.8C701.7,374.0 701.3,372.8 700.9,379.0C700.5,385.2 700.2,386.1 697.7,388.5C695.3,390.8 694.9,386.9 693.5,386.1" fill="none" stroke-width="1.59"/>
<path d="M691.1,366.4C692.4,369.0 694.0,368.5 695.1,374.2C696.1,380.0 694.5,380.6 694.3,383.7" fill="none" stroke-width="0.98"/>
<polyline points="700.9,369.8 702.5,368.2" fill="none" stroke-width="1.10"/>
<line x1="682.4" y1="390.8" x2="752.0" y2="415.0" stroke-width="1.22" stroke-dasharray="9 2 2.5 2"/>
<line x1="773.0" y1="422.2" x2="826.5" y2="441.2" stroke-width="1.22" stroke-dasharray="9 2 2.5 2"/>
<ellipse cx="333.8" cy="526.7" rx="4.7" ry="1.7" fill="none" stroke-width="1.40"/>
<ellipse cx="333.8" cy="527.2" rx="2.6" ry="0.8" fill="none" stroke-width="1.10"/>
<line x1="329.0" y1="526.7" x2="329.0" y2="556.5" stroke-width="1.40"/>
<line x1="338.6" y1="526.7" x2="338.6" y2="556.5" stroke-width="1.40"/>
<path d="M329.0,555.3 C325.8,555.8 325.3,557.0 325.3,558.2" stroke-width="1.15"/>
<path d="M338.6,555.3 C341.8,555.8 342.3,557.0 342.3,558.2" stroke-width="1.15"/>
<path d="M325.3,558.2 C325.3,562.3 342.3,562.3 342.3,558.2" stroke-width="1.15"/>
<path d="M325.6,557.2 C325.8,560.4 341.8,560.4 342.0,557.2" stroke-width="0.8"/>
<polyline points="327.0,560.4 327.4,564.4 332.3,566.6 338.6,565.6 340.7,562.0 340.7,560.4" fill="none" stroke-width="1.40"/>
<line x1="329.8" y1="561.3" x2="329.8" y2="565.0" stroke-width="0.98"/>
<line x1="335.8" y1="561.5" x2="335.8" y2="566.0" stroke-width="0.98"/>
<ellipse cx="374.4" cy="546.7" rx="4.7" ry="1.7" fill="none" stroke-width="1.40"/>
<ellipse cx="374.4" cy="547.2" rx="2.6" ry="0.8" fill="none" stroke-width="1.10"/>
<line x1="369.6" y1="546.7" x2="369.6" y2="576.5" stroke-width="1.40"/>
<line x1="379.2" y1="546.7" x2="379.2" y2="576.5" stroke-width="1.40"/>
<path d="M369.6,575.3 C366.4,575.8 365.9,577.0 365.9,578.2" stroke-width="1.15"/>
<path d="M379.2,575.3 C382.4,575.8 382.9,577.0 382.9,578.2" stroke-width="1.15"/>
<path d="M365.9,578.2 C365.9,582.3 382.9,582.3 382.9,578.2" stroke-width="1.15"/>
<path d="M366.2,577.2 C366.4,580.4 382.4,580.4 382.6,577.2" stroke-width="0.8"/>
<polyline points="367.6,580.4 368.0,584.4 372.9,586.6 379.2,585.6 381.3,582.0 381.3,580.4" fill="none" stroke-width="1.40"/>
<line x1="370.4" y1="581.3" x2="370.4" y2="585.0" stroke-width="0.98"/>
<line x1="376.4" y1="581.5" x2="376.4" y2="586.0" stroke-width="0.98"/>
<ellipse cx="397.6" cy="501.7" rx="4.7" ry="1.7" fill="none" stroke-width="1.40"/>
<ellipse cx="397.6" cy="502.2" rx="2.6" ry="0.8" fill="none" stroke-width="1.10"/>
<line x1="392.8" y1="501.7" x2="392.8" y2="531.5" stroke-width="1.40"/>
<line x1="402.4" y1="501.7" x2="402.4" y2="531.5" stroke-width="1.40"/>
<path d="M392.8,530.3 C389.6,530.8 389.1,532.0 389.1,533.2" stroke-width="1.15"/>
<path d="M402.4,530.3 C405.6,530.8 406.1,532.0 406.1,533.2" stroke-width="1.15"/>
<path d="M389.1,533.2 C389.1,537.3 406.1,537.3 406.1,533.2" stroke-width="1.15"/>
<path d="M389.4,532.2 C389.6,535.4 405.6,535.4 405.8,532.2" stroke-width="0.8"/>
<polyline points="390.8,535.4 391.2,539.4 396.1,541.6 402.4,540.6 404.5,537.0 404.5,535.4" fill="none" stroke-width="1.40"/>
<line x1="393.6" y1="536.3" x2="393.6" y2="540.0" stroke-width="0.98"/>
<line x1="399.6" y1="536.5" x2="399.6" y2="541.0" stroke-width="0.98"/>
<ellipse cx="441.6" cy="565.7" rx="4.7" ry="1.7" fill="none" stroke-width="1.40"/>
<ellipse cx="441.6" cy="566.2" rx="2.6" ry="0.8" fill="none" stroke-width="1.10"/>
<line x1="436.8" y1="565.7" x2="436.8" y2="595.5" stroke-width="1.40"/>
<line x1="446.4" y1="565.7" x2="446.4" y2="595.5" stroke-width="1.40"/>
<path d="M436.8,594.3 C433.6,594.8 433.1,596.0 433.1,597.2" stroke-width="1.15"/>
<path d="M446.4,594.3 C449.6,594.8 450.1,596.0 450.1,597.2" stroke-width="1.15"/>
<path d="M433.1,597.2 C433.1,601.3 450.1,601.3 450.1,597.2" stroke-width="1.15"/>
<path d="M433.4,596.2 C433.6,599.4 449.6,599.4 449.8,596.2" stroke-width="0.8"/>
<polyline points="434.8,599.4 435.2,603.4 440.1,605.6 446.4,604.6 448.5,601.0 448.5,599.4" fill="none" stroke-width="1.40"/>
<line x1="437.6" y1="600.3" x2="437.6" y2="604.0" stroke-width="0.98"/>
<line x1="443.6" y1="600.5" x2="443.6" y2="605.0" stroke-width="0.98"/>
<ellipse cx="466.0" cy="478.2" rx="4.7" ry="1.7" fill="none" stroke-width="1.40"/>
<ellipse cx="466.0" cy="478.7" rx="2.6" ry="0.8" fill="none" stroke-width="1.10"/>
<line x1="461.2" y1="478.2" x2="461.2" y2="508.0" stroke-width="1.40"/>
<line x1="470.8" y1="478.2" x2="470.8" y2="508.0" stroke-width="1.40"/>
<path d="M461.2,506.8 C458.0,507.3 457.5,508.5 457.5,509.7" stroke-width="1.15"/>
<path d="M470.8,506.8 C474.0,507.3 474.5,508.5 474.5,509.7" stroke-width="1.15"/>
<path d="M457.5,509.7 C457.5,513.8 474.5,513.8 474.5,509.7" stroke-width="1.15"/>
<path d="M457.8,508.7 C458.0,511.9 474.0,511.9 474.2,508.7" stroke-width="0.8"/>
<polyline points="459.2,511.9 459.6,515.9 464.5,518.1 470.8,517.1 472.9,513.5 472.9,511.9" fill="none" stroke-width="1.40"/>
<line x1="462.0" y1="512.8" x2="462.0" y2="516.5" stroke-width="0.98"/>
<line x1="468.0" y1="513.0" x2="468.0" y2="517.5" stroke-width="0.98"/>
<ellipse cx="501.4" cy="585.7" rx="4.7" ry="1.7" fill="none" stroke-width="1.40"/>
<ellipse cx="501.4" cy="586.2" rx="2.6" ry="0.8" fill="none" stroke-width="1.10"/>
<line x1="496.6" y1="585.7" x2="496.6" y2="615.5" stroke-width="1.40"/>
<line x1="506.2" y1="585.7" x2="506.2" y2="615.5" stroke-width="1.40"/>
<path d="M496.6,614.3 C493.4,614.8 492.9,616.0 492.9,617.2" stroke-width="1.15"/>
<path d="M506.2,614.3 C509.4,614.8 509.9,616.0 509.9,617.2" stroke-width="1.15"/>
<path d="M492.9,617.2 C492.9,621.3 509.9,621.3 509.9,617.2" stroke-width="1.15"/>
<path d="M493.2,616.2 C493.4,619.4 509.4,619.4 509.6,616.2" stroke-width="0.8"/>
<polyline points="494.6,619.4 495.0,623.4 499.9,625.6 506.2,624.6 508.3,621.0 508.3,619.4" fill="none" stroke-width="1.40"/>
<line x1="497.4" y1="620.3" x2="497.4" y2="624.0" stroke-width="0.98"/>
<line x1="503.4" y1="620.5" x2="503.4" y2="625.0" stroke-width="0.98"/>
<ellipse cx="528.4" cy="455.7" rx="4.7" ry="1.7" fill="none" stroke-width="1.40"/>
<ellipse cx="528.4" cy="456.2" rx="2.6" ry="0.8" fill="none" stroke-width="1.10"/>
<line x1="523.6" y1="455.7" x2="523.6" y2="485.5" stroke-width="1.40"/>
<line x1="533.2" y1="455.7" x2="533.2" y2="485.5" stroke-width="1.40"/>
<path d="M523.6,484.3 C520.4,484.8 519.9,486.0 519.9,487.2" stroke-width="1.15"/>
<path d="M533.2,484.3 C536.4,484.8 536.9,486.0 536.9,487.2" stroke-width="1.15"/>
<path d="M519.9,487.2 C519.9,491.3 536.9,491.3 536.9,487.2" stroke-width="1.15"/>
<path d="M520.2,486.2 C520.4,489.4 536.4,489.4 536.6,486.2" stroke-width="0.8"/>
<polyline points="521.6,489.4 522.0,493.4 526.9,495.6 533.2,494.6 535.3,491.0 535.3,489.4" fill="none" stroke-width="1.40"/>
<line x1="524.4" y1="490.3" x2="524.4" y2="494.0" stroke-width="0.98"/>
<line x1="530.4" y1="490.5" x2="530.4" y2="495.0" stroke-width="0.98"/>
<ellipse cx="571.2" cy="601.7" rx="4.7" ry="1.7" fill="none" stroke-width="1.40"/>
<ellipse cx="571.2" cy="602.2" rx="2.6" ry="0.8" fill="none" stroke-width="1.10"/>
<line x1="566.4" y1="601.7" x2="566.4" y2="631.5" stroke-width="1.40"/>
<line x1="576.0" y1="601.7" x2="576.0" y2="631.5" stroke-width="1.40"/>
<path d="M566.4,630.3 C563.2,630.8 562.7,632.0 562.7,633.2" stroke-width="1.15"/>
<path d="M576.0,630.3 C579.2,630.8 579.7,632.0 579.7,633.2" stroke-width="1.15"/>
<path d="M562.7,633.2 C562.7,637.3 579.7,637.3 579.7,633.2" stroke-width="1.15"/>
<path d="M563.0,632.2 C563.2,635.4 579.2,635.4 579.4,632.2" stroke-width="0.8"/>
<polyline points="564.4,635.4 564.8,639.4 569.7,641.6 576.0,640.6 578.1,637.0 578.1,635.4" fill="none" stroke-width="1.40"/>
<line x1="567.2" y1="636.3" x2="567.2" y2="640.0" stroke-width="0.98"/>
<line x1="573.2" y1="636.5" x2="573.2" y2="641.0" stroke-width="0.98"/>
<ellipse cx="595.3" cy="475.2" rx="4.7" ry="1.7" fill="none" stroke-width="1.40"/>
<ellipse cx="595.3" cy="475.7" rx="2.6" ry="0.8" fill="none" stroke-width="1.10"/>
<line x1="590.5" y1="475.2" x2="590.5" y2="505.0" stroke-width="1.40"/>
<line x1="600.1" y1="475.2" x2="600.1" y2="505.0" stroke-width="1.40"/>
<path d="M590.5,503.8 C587.3,504.3 586.8,505.5 586.8,506.7" stroke-width="1.15"/>
<path d="M600.1,503.8 C603.3,504.3 603.8,505.5 603.8,506.7" stroke-width="1.15"/>
<path d="M586.8,506.7 C586.8,510.8 603.8,510.8 603.8,506.7" stroke-width="1.15"/>
<path d="M587.1,505.7 C587.3,508.9 603.3,508.9 603.5,505.7" stroke-width="0.8"/>
<polyline points="588.5,508.9 588.9,512.9 593.8,515.1 600.1,514.1 602.2,510.5 602.2,508.9" fill="none" stroke-width="1.40"/>
<line x1="591.3" y1="509.8" x2="591.3" y2="513.5" stroke-width="0.98"/>
<line x1="597.3" y1="510.0" x2="597.3" y2="514.5" stroke-width="0.98"/>
<ellipse cx="639.6" cy="578.2" rx="4.7" ry="1.7" fill="none" stroke-width="1.40"/>
<ellipse cx="639.6" cy="578.7" rx="2.6" ry="0.8" fill="none" stroke-width="1.10"/>
<line x1="634.8" y1="578.2" x2="634.8" y2="608.0" stroke-width="1.40"/>
<line x1="644.4" y1="578.2" x2="644.4" y2="608.0" stroke-width="1.40"/>
<path d="M634.8,606.8 C631.6,607.3 631.1,608.5 631.1,609.7" stroke-width="1.15"/>
<path d="M644.4,606.8 C647.6,607.3 648.1,608.5 648.1,609.7" stroke-width="1.15"/>
<path d="M631.1,609.7 C631.1,613.8 648.1,613.8 648.1,609.7" stroke-width="1.15"/>
<path d="M631.4,608.7 C631.6,611.9 647.6,611.9 647.8,608.7" stroke-width="0.8"/>
<polyline points="632.8,611.9 633.2,615.9 638.1,618.1 644.4,617.1 646.5,613.5 646.5,611.9" fill="none" stroke-width="1.40"/>
<line x1="635.6" y1="612.8" x2="635.6" y2="616.5" stroke-width="0.98"/>
<line x1="641.6" y1="613.0" x2="641.6" y2="617.5" stroke-width="0.98"/>
<ellipse cx="657.8" cy="495.7" rx="4.7" ry="1.7" fill="none" stroke-width="1.40"/>
<ellipse cx="657.8" cy="496.2" rx="2.6" ry="0.8" fill="none" stroke-width="1.10"/>
<line x1="653.0" y1="495.7" x2="653.0" y2="525.5" stroke-width="1.40"/>
<line x1="662.6" y1="495.7" x2="662.6" y2="525.5" stroke-width="1.40"/>
<path d="M653.0,524.3 C649.8,524.8 649.3,526.0 649.3,527.2" stroke-width="1.15"/>
<path d="M662.6,524.3 C665.8,524.8 666.3,526.0 666.3,527.2" stroke-width="1.15"/>
<path d="M649.3,527.2 C649.3,531.3 666.3,531.3 666.3,527.2" stroke-width="1.15"/>
<path d="M649.6,526.2 C649.8,529.4 665.8,529.4 666.0,526.2" stroke-width="0.8"/>
<polyline points="651.0,529.4 651.4,533.4 656.3,535.6 662.6,534.6 664.7,531.0 664.7,529.4" fill="none" stroke-width="1.40"/>
<line x1="653.8" y1="530.3" x2="653.8" y2="534.0" stroke-width="0.98"/>
<line x1="659.8" y1="530.5" x2="659.8" y2="535.0" stroke-width="0.98"/>
<ellipse cx="657.8" cy="545.7" rx="4.7" ry="1.7" fill="none" stroke-width="1.40"/>
<ellipse cx="657.8" cy="546.2" rx="2.6" ry="0.8" fill="none" stroke-width="1.10"/>
<line x1="653.0" y1="545.7" x2="653.0" y2="575.5" stroke-width="1.40"/>
<line x1="662.6" y1="545.7" x2="662.6" y2="575.5" stroke-width="1.40"/>
<path d="M653.0,574.3 C649.8,574.8 649.3,576.0 649.3,577.2" stroke-width="1.15"/>
<path d="M662.6,574.3 C665.8,574.8 666.3,576.0 666.3,577.2" stroke-width="1.15"/>
<path d="M649.3,577.2 C649.3,581.3 666.3,581.3 666.3,577.2" stroke-width="1.15"/>
<path d="M649.6,576.2 C649.8,579.4 665.8,579.4 666.0,576.2" stroke-width="0.8"/>
<polyline points="651.0,579.4 651.4,583.4 656.3,585.6 662.6,584.6 664.7,581.0 664.7,579.4" fill="none" stroke-width="1.40"/>
<line x1="653.8" y1="580.3" x2="653.8" y2="584.0" stroke-width="0.98"/>
<line x1="659.8" y1="580.5" x2="659.8" y2="585.0" stroke-width="0.98"/>
<ellipse cx="711.0" cy="517.9" rx="4.7" ry="1.7" fill="none" stroke-width="1.40"/>
<ellipse cx="711.0" cy="518.4" rx="2.6" ry="0.8" fill="none" stroke-width="1.10"/>
<line x1="706.2" y1="517.9" x2="706.2" y2="547.7" stroke-width="1.40"/>
<line x1="715.8" y1="517.9" x2="715.8" y2="547.7" stroke-width="1.40"/>
<path d="M706.2,546.5 C703.0,547.0 702.5,548.2 702.5,549.4" stroke-width="1.15"/>
<path d="M715.8,546.5 C719.0,547.0 719.5,548.2 719.5,549.4" stroke-width="1.15"/>
<path d="M702.5,549.4 C702.5,553.5 719.5,553.5 719.5,549.4" stroke-width="1.15"/>
<path d="M702.8,548.4 C703.0,551.6 719.0,551.6 719.2,548.4" stroke-width="0.8"/>
<polyline points="704.2,551.6 704.6,555.6 709.5,557.8 715.8,556.8 717.9,553.2 717.9,551.6" fill="none" stroke-width="1.40"/>
<line x1="707.0" y1="552.5" x2="707.0" y2="556.2" stroke-width="0.98"/>
<line x1="713.0" y1="552.7" x2="713.0" y2="557.2" stroke-width="0.98"/>
<line x1="333.8" y1="306.0" x2="333.8" y2="525.0" stroke-width="1.22" stroke-dasharray="21 2.2 3.5 2.2"/>
<line x1="374.4" y1="318.0" x2="374.4" y2="545.0" stroke-width="1.22" stroke-dasharray="21 2.2 3.5 2.2"/>
<line x1="397.6" y1="330.0" x2="397.6" y2="500.0" stroke-width="1.22" stroke-dasharray="21 2.2 3.5 2.2"/>
<line x1="441.6" y1="336.0" x2="441.6" y2="564.0" stroke-width="1.22" stroke-dasharray="21 2.2 3.5 2.2"/>
<line x1="466.0" y1="379.0" x2="466.0" y2="476.5" stroke-width="1.22" stroke-dasharray="21 2.2 3.5 2.2"/>
<line x1="501.4" y1="358.0" x2="501.4" y2="584.0" stroke-width="1.22" stroke-dasharray="21 2.2 3.5 2.2"/>
<line x1="528.4" y1="400.0" x2="528.4" y2="454.0" stroke-width="1.22" stroke-dasharray="21 2.2 3.5 2.2"/>
<line x1="571.2" y1="372.0" x2="571.2" y2="600.0" stroke-width="1.22" stroke-dasharray="21 2.2 3.5 2.2"/>
<line x1="595.3" y1="426.0" x2="595.3" y2="473.5" stroke-width="1.22" stroke-dasharray="21 2.2 3.5 2.2"/>
<line x1="639.6" y1="372.0" x2="639.6" y2="576.5" stroke-width="1.22" stroke-dasharray="21 2.2 3.5 2.2"/>
<line x1="657.8" y1="345.0" x2="657.8" y2="494.0" stroke-width="1.22" stroke-dasharray="21 2.2 3.5 2.2"/>
<line x1="657.8" y1="536.0" x2="657.8" y2="544.0" stroke-width="1.22" stroke-dasharray="21 2.2 3.5 2.2"/>
<ellipse cx="576.5" cy="89.7" rx="6.2" ry="2.4" fill="none" stroke-width="1.40"/>
<ellipse cx="576.5" cy="90.2" rx="4.0" ry="1.1" fill="none" stroke-width="0.98"/>
<line x1="570.3" y1="89.7" x2="570.3" y2="105.5" stroke-width="1.40"/>
<line x1="582.7" y1="89.7" x2="582.7" y2="105.5" stroke-width="1.40"/>
<path d="M570.3,105.5 C570.5,108.7 582.5,108.7 582.7,105.5" stroke-width="1.15"/>
<ellipse cx="473.4" cy="183.7" rx="6.2" ry="2.4" fill="none" stroke-width="1.40"/>
<ellipse cx="473.4" cy="184.2" rx="4.0" ry="1.1" fill="none" stroke-width="0.98"/>
<line x1="467.2" y1="183.7" x2="467.2" y2="199.5" stroke-width="1.40"/>
<line x1="479.6" y1="183.7" x2="479.6" y2="199.5" stroke-width="1.40"/>
<path d="M467.2,199.5 C467.4,202.7 479.4,202.7 479.6,199.5" stroke-width="1.15"/>
<line x1="576.5" y1="107.8" x2="576.5" y2="127.0" stroke-width="1.34"/>
<line x1="576.5" y1="130.0" x2="576.5" y2="214.0" stroke-width="1.22" stroke-dasharray="21 2.2 3.5 2.2"/>
<line x1="473.4" y1="202.0" x2="473.4" y2="336.0" stroke-width="1.22" stroke-dasharray="21 2.2 3.5 2.2"/>
<line x1="582.9" y1="97.2" x2="625.2" y2="97.2" stroke-width="1.40"/>
<line x1="425.0" y1="192.2" x2="467.2" y2="192.2" stroke-width="1.40"/>
<ellipse cx="762.6" cy="417.1" rx="10.6" ry="14.7" fill="none" stroke-width="1.46" transform="rotate(14 762.6 417.1)"/>
<ellipse cx="763.4" cy="416.6" rx="6.4" ry="9.3" fill="none" stroke-width="1.34" transform="rotate(14 763.4 416.6)"/>
<path d="M766.8,408.6 C769.2,412 768.6,421 764.2,425.4" stroke-width="1.0"/>
<path d="M757.2,405.0 C750.8,411 750.4,424 757.6,430.6" stroke-width="1.0"/>
<line x1="757.2" y1="415.6" x2="769.2" y2="419.8" stroke-width="1.10"/>
<line x1="761.6" y1="359.6" x2="761.6" y2="402.8" stroke-width="1.34"/>
<path d="M841.9,434.8C839.7,434.0 837.7,432.9 834.6,432.2C831.6,431.4 833.8,431.5 831.7,432.3C829.7,433.1 829.6,432.9 827.7,434.8C825.9,436.8 826.2,436.1 825.6,438.8C824.9,441.5 825.1,441.4 825.6,443.9C826.0,446.4 826.0,445.6 827.0,447.2C828.0,448.7 826.0,447.6 828.8,449.0C831.7,450.4 834.1,451.0 836.4,451.9" fill="none" stroke-width="1.40"/>
<path d="M844.8,433.0C843.3,434.1 842.8,433.4 840.4,436.3C838.0,439.2 838.8,438.0 837.5,441.7C836.2,445.5 836.4,443.4 836.4,447.5C836.5,451.6 836.1,450.2 837.7,454.0C839.2,457.9 838.3,456.4 841.1,459.1C844.0,461.8 843.1,460.5 846.2,462.0C849.3,463.5 849.1,463.1 850.6,463.6" fill="none" stroke-width="1.46"/>
<path d="M846.2,434.5C844.9,435.7 844.4,435.2 842.2,438.1C840.1,441.0 840.8,439.7 839.7,443.2C838.6,446.7 838.8,445.0 838.8,448.6C838.9,452.2 838.6,450.8 839.8,454.0C841.1,457.3 841.7,456.9 842.6,458.4" fill="none" stroke-width="1.10"/>
<path d="M844.8,433.0C846.5,432.8 846.2,431.5 850.6,432.3C854.9,433.1 855.1,433.2 859.2,435.6C863.4,438.0 862.2,437.1 864.3,440.3C866.4,443.4 865.9,442.6 866.3,446.1C866.8,449.5 867.0,448.2 865.8,451.9C864.5,455.6 865.1,455.2 862.3,458.4C859.5,461.6 860.0,460.9 856.5,462.5C853.0,464.1 852.3,463.3 850.6,463.6" fill="none" stroke-width="1.52"/>
<ellipse cx="857.9" cy="451.0" rx="7.4" ry="11.6" fill="none" stroke-width="1.22" transform="rotate(14 857.9 451.0)"/>
<polyline points="842.2,438.5 853.4,441.7 848.4,451.9 851.3,463.3" fill="none" stroke-width="1.10"/>
<polyline points="840.1,451.9 848.4,451.9" fill="none" stroke-width="1.10"/>
<line x1="846.4" y1="389.2" x2="846.4" y2="432.6" stroke-width="1.34"/>
<line x1="716.0" y1="533.3" x2="757.3" y2="533.3" stroke-width="1.40"/>
<line x1="711.0" y1="312.0" x2="711.0" y2="516.0" stroke-width="1.22" stroke-dasharray="21 2.2 3.5 2.2"/>
<polyline points="77.1,690.9 58.6,716.6 77.1,720.6 77.1,713.0 96.7,701.6 96.7,687.0 77.5,696.9 77.1,690.9" fill="none" stroke-width="1.22"/>
<polyline points="77.1,690.9 74.0,688.2 55.4,713.8 58.6,716.6" fill="none" stroke-width="1.22"/>
<polyline points="77.9,692.9 92.9,684.2 96.7,687.0" fill="none" stroke-width="1.22"/>
<polyline points="77.1,690.9 77.1,697.3" fill="none" stroke-width="1.22"/>
<path d="M412.0,266.4C419.1,267.6 417.9,267.0 433.3,270.0C448.7,272.9 444.4,271.7 458.2,275.3C472.0,278.8 465.3,276.7 474.8,280.6C484.3,284.6 478.2,281.4 486.6,287.1C495.0,292.9 495.6,294.2 500.0,297.8" fill="none" stroke-width="1.59"/>
<path d="M413.2,269.4C419.9,270.5 418.7,270.0 433.3,272.9C447.9,275.9 443.6,274.7 457.0,278.2C470.4,281.8 463.7,279.4 473.6,283.6C483.5,287.7 477.8,284.4 486.6,290.7C495.4,297.0 495.6,298.6 500.0,302.5" fill="none" stroke-width="1.10"/>
<path d="M412.6,274.7C419.5,275.9 418.9,275.3 433.3,278.2C447.7,281.2 442.8,280.0 455.8,283.6C468.9,287.1 462.1,284.2 472.4,288.9C482.7,293.6 477.4,291.3 486.6,297.8C495.8,304.3 495.6,304.9 500.0,308.5" fill="none" stroke-width="1.10"/>
<polyline points="458.2,275.3 457.6,283.6" fill="none" stroke-width="0.98"/>
<polyline points="451.7,278.8 451.1,282.4" fill="none" stroke-width="0.98"/>
<polyline points="425.0,268.2 462.9,254.0" fill="none" stroke-width="0.85"/>
<polyline points="415.5,294.2 451.1,281.2" fill="none" stroke-width="0.85"/>
<polyline points="470.0,275.9 500.0,264.6" fill="none" stroke-width="0.85"/>
<line x1="441.6" y1="306.1" x2="441.6" y2="322.7" stroke-width="0.98"/>
<polyline points="540.0,366.7 563.9,372.6 569.4,373.7" fill="none" stroke-width="1.10"/>
<polyline points="544.6,355.7 544.6,367.6" fill="none" stroke-width="0.85"/>
<polyline points="552.8,357.5 552.8,369.4" fill="none" stroke-width="0.85"/>
<polyline points="556.5,358.4 556.5,370.7" fill="none" stroke-width="0.85"/>
<ellipse cx="607.0" cy="366.7" rx="6.0" ry="7.0" fill="none" stroke-width="1.34" transform="rotate(15 607.0 366.7)"/>
<ellipse cx="607.3" cy="367.1" rx="2.8" ry="3.4" fill="none" stroke-width="1.10" transform="rotate(15 607.3 367.1)"/>
<path d="M584.0,357.9C585.3,356.3 584.0,355.1 587.7,353.1C591.4,351.2 589.8,349.8 595.0,352.0C600.2,354.2 600.6,357.2 603.3,359.7" fill="none" stroke-width="1.10"/>
<path d="M585.9,369.4C588.3,371.0 587.7,372.6 593.2,374.0C598.7,375.4 599.3,373.8 602.4,373.7" fill="none" stroke-width="1.10"/>
<path d="M584.0,357.9C583.7,359.9 582.5,360.1 583.1,363.9C583.7,367.8 585.0,367.6 585.9,369.4" fill="none" stroke-width="1.10"/>
<polyline points="585.9,374.0 588.6,383.6 596.5,375.1" fill="none" stroke-width="1.10"/>
<polyline points="588.1,375.9 589.9,381.0 594.1,375.9" fill="none" stroke-width="0.85"/>
<polyline points="578.9,355.1 610.6,345.0" fill="none" stroke-width="1.10"/>
<polyline points="581.3,361.6 611.6,351.7" fill="none" stroke-width="1.10"/>
<polyline points="610.6,348.3 610.6,353.1 626.2,357.9 650.1,347.6 650.1,341.0" fill="none" stroke-width="1.10"/>
<polyline points="610.6,348.3 623.5,343.9 630.8,346.1" fill="none" stroke-width="1.10"/>
<polyline points="610.6,348.3 626.2,352.8 642.8,346.1" fill="none" stroke-width="1.10"/>
<polyline points="626.2,352.8 626.2,357.9" fill="none" stroke-width="1.10"/>
<path d="M540.0,401.6C542.2,402.7 544.8,404.1 551.0,407.1C557.2,410.0 562.4,412.9 571.2,416.2C580.0,419.6 589.0,422.1 595.0,423.9C601.1,425.8 600.2,425.1 601.5,425.4" fill="none" stroke-width="1.10"/>
<polyline points="601.5,425.4 626.2,425.4" fill="none" stroke-width="1.10"/>
<path d="M626.2,425.4C629.7,423.0 630.8,422.1 639.1,416.2C647.4,410.4 650.1,408.7 657.4,403.4C664.8,398.1 663.6,399.8 666.6,396.4C669.6,393.0 668.2,392.1 668.8,390.6" fill="none" stroke-width="1.10"/>
<path d="M628.1,418.1C631.7,415.6 629.9,416.9 639.1,410.7C648.3,404.6 650.1,403.4 655.6,399.7" fill="none" stroke-width="0.85"/>
<path d="M540.0,393.3C542.9,394.1 544.6,394.4 551.0,396.4C557.4,398.4 559.0,399.9 563.9,400.8C568.7,401.7 566.9,401.9 569.4,399.7C571.8,397.6 571.8,399.6 573.0,392.8C574.3,385.9 573.7,379.0 573.9,374.0" fill="none" stroke-width="1.10"/>
<path d="M547.3,396.1C548.8,396.6 549.9,397.3 552.8,398.3C555.8,399.2 555.7,399.7 558.3,399.7C561.0,399.7 561.0,400.2 562.9,398.3C564.9,396.3 564.9,398.6 565.7,392.4C566.5,386.2 566.0,379.6 566.1,375.0" fill="none" stroke-width="0.85"/>
<path d="M574.9,393.3C578.5,392.4 577.9,391.5 585.9,390.6C593.8,389.6 592.5,389.3 598.7,390.6C605.0,391.8 603.2,390.6 604.6,394.2C605.9,397.9 605.9,398.4 602.8,401.6C599.6,404.7 597.6,403.0 595.0,403.8" fill="none" stroke-width="1.10"/>
<path d="M604.6,394.2C608.7,395.0 610.5,393.2 617.1,396.4C623.7,399.6 621.2,396.5 624.4,403.8C627.6,411.0 625.9,413.3 626.6,418.1" fill="none" stroke-width="1.10"/>
<path d="M609.7,403.4C612.2,405.8 613.3,404.6 617.1,410.7C620.9,416.9 619.8,418.1 621.1,421.7" fill="none" stroke-width="0.85"/>
<path d="M595.0,403.8C597.5,406.1 598.1,403.8 602.4,410.7C606.7,417.6 606.1,419.9 607.9,424.5" fill="none" stroke-width="1.10"/>
<polyline points="577.6,394.2 600.6,393.3" fill="none" stroke-width="0.85"/>
<path d="M562.0,403.4C563.0,405.8 562.3,405.8 565.0,410.6C567.8,415.3 568.5,415.3 570.3,417.7" fill="none" stroke-width="1.46"/>
<path d="M567.5,403.0C568.5,405.7 567.8,405.7 570.6,411.1C573.3,416.5 574.0,416.5 575.8,419.2" fill="none" stroke-width="1.46"/>
<path d="M574.9,403.0C576.2,406.2 575.4,406.2 578.8,412.6C582.2,418.9 582.9,418.9 585.0,422.1" fill="none" stroke-width="1.46"/>
<path d="M581.3,402.5C582.4,405.9 581.7,405.9 584.8,412.8C587.8,419.8 588.6,419.8 590.5,423.2" fill="none" stroke-width="1.46"/>
<path d="M595.0,401.9C596.3,405.7 595.5,405.7 598.7,413.3C601.9,420.9 602.6,420.9 604.6,424.7" fill="none" stroke-width="1.46"/>
<path d="M599.6,402.5C600.7,406.2 600.0,406.2 602.8,413.6C605.7,421.0 606.5,421.0 608.3,424.7" fill="none" stroke-width="1.46"/>
<polyline points="570.3,417.7 575.8,419.2" fill="none" stroke-width="0.98"/>
<polyline points="585.0,422.1 590.5,423.2" fill="none" stroke-width="0.98"/>
<polyline points="604.6,424.7 608.3,424.7" fill="none" stroke-width="0.98"/>
<path d="M540.9,403.0C541.1,404.4 539.9,405.0 541.5,407.1C543.0,409.1 542.6,409.0 545.5,409.3C548.4,409.6 548.6,408.4 550.1,408.0" fill="none" stroke-width="1.34"/>
<polyline points="626.2,357.9 628.4,418.4" fill="none" stroke-width="1.10"/>
<polyline points="635.4,354.2 639.1,416.2" fill="none" stroke-width="1.10"/>
<polyline points="631.7,355.7 635.0,419.5" fill="none" stroke-width="0.85"/>
<polyline points="657.4,346.9 658.5,403.4" fill="none" stroke-width="1.10"/>
<polyline points="664.8,345.0 665.9,394.6" fill="none" stroke-width="1.10"/>
<polyline points="654.1,348.3 656.0,404.3" fill="none" stroke-width="0.85"/>
<polyline points="680.4,330.0 681.3,363.4" fill="none" stroke-width="0.98"/>
<polyline points="702.4,330.0 703.3,367.6" fill="none" stroke-width="1.10"/>
<polyline points="700.6,330.0 701.5,366.7" fill="none" stroke-width="0.85"/>
<polyline points="648.3,344.7 647.3,355.7 657.4,348.3" fill="none" stroke-width="1.10"/>
<line x1="374.1" y1="277.0" x2="374.1" y2="303.5" stroke-width="0.98"/>
<path d="M535.4,277.8C535.6,276.6 534.6,276.0 536.0,273.7C537.4,271.4 531.1,273.7 540.1,270.1C549.2,266.6 556.3,264.2 566.2,261.8C576.2,259.5 568.7,260.7 573.3,262.4C577.9,264.2 576.6,263.9 581.6,267.8C586.6,271.7 586.6,272.3 589.9,275.5C593.2,278.6 591.7,277.4 592.5,278.2" fill="none" stroke-width="1.34"/>
<path d="M539.5,280.8C539.7,279.7 538.9,279.4 540.1,277.3C541.4,275.1 535.9,276.5 543.7,273.7C551.5,270.9 557.7,269.5 566.2,267.8C574.7,266.0 568.2,266.5 572.1,267.8C576.0,269.0 575.0,268.7 579.2,271.9C583.5,275.1 583.3,275.2 586.4,278.4C589.4,281.6 588.2,280.5 589.3,282.6C590.5,284.7 589.9,284.7 590.1,285.5" fill="none" stroke-width="1.22"/>
<path d="M535.4,277.8C535.8,280.0 535.0,280.2 536.6,284.4C538.2,288.5 537.8,287.0 540.1,290.3C542.5,293.5 542.5,292.8 543.7,294.1" fill="none" stroke-width="1.34"/>
<path d="M539.5,280.8C540.1,282.8 539.5,282.8 541.3,286.7C543.1,290.7 542.4,289.7 544.9,292.7C547.3,295.7 547.4,294.7 548.7,295.7" fill="none" stroke-width="1.22"/>
<path d="M541.9,275.5C542.5,274.6 536.4,275.6 543.7,272.5C551.0,269.4 557.5,267.4 566.2,265.2C574.9,263.0 568.5,263.7 572.7,265.2C577.0,266.6 575.8,266.4 580.4,269.9C585.0,273.5 585.8,274.9 588.1,277.0" fill="none" stroke-width="0.85"/>
<polyline points="565.3,294.5 589.9,286.1" fill="none" stroke-width="1.10"/>
<polyline points="566.8,302.1 584.6,296.2" fill="none" stroke-width="1.10"/>
<polyline points="568.6,327.0 584.6,321.1" fill="none" stroke-width="0.98"/>
<polyline points="548.7,295.7 555.5,295.0" fill="none" stroke-width="1.10"/>
<path d="M555.5,278.4C555.3,276.3 555.2,277.1 556.7,275.5C558.3,273.9 557.7,274.1 560.3,273.7C562.9,273.3 562.3,273.3 564.4,274.3C566.6,275.3 565.8,274.1 566.8,276.7C567.8,279.2 568.0,279.4 567.4,282.0C566.8,284.6 567.2,283.6 565.0,284.4C562.9,285.2 563.4,285.2 560.9,284.4C558.3,283.6 559.1,284.0 557.3,282.0C555.5,280.0 555.7,280.6 555.5,278.4Z" fill="none" stroke-width="1.22"/>
<polyline points="564.4,275.1 564.4,284.1" fill="none" stroke-width="0.98"/>
<path d="M557.7,281.0C558.0,280.0 557.2,279.4 558.5,277.8C559.8,276.3 559.5,276.7 561.5,276.3C563.4,275.9 563.4,276.5 564.4,276.7" fill="none" stroke-width="0.85"/>
<ellipse cx="560.3" cy="294.4" rx="4.8" ry="1.8" fill="none" stroke-width="1.34"/>
<polyline points="555.5,294.8 555.5,340.0" fill="none" stroke-width="1.34"/>
<polyline points="565.3,294.8 565.3,340.0" fill="none" stroke-width="1.34"/>
<polyline points="567.4,314.6 567.4,340.0" fill="none" stroke-width="1.10"/>
<ellipse cx="597.0" cy="291.5" rx="11.4" ry="3.7" fill="none" stroke-width="1.46"/>
<ellipse cx="597.0" cy="291.7" rx="7.8" ry="2.4" fill="none" stroke-width="1.10"/>
<polyline points="584.9,292.1 584.9,340.0" fill="none" stroke-width="1.34"/>
<polyline points="608.4,292.1 608.4,340.0" fill="none" stroke-width="1.34"/>
<polyline points="611.2,297.4 611.2,340.0" fill="none" stroke-width="1.10"/>
<ellipse cx="618.3" cy="277.8" rx="4.6" ry="1.7" fill="none" stroke-width="1.34"/>
<polyline points="613.8,278.2 613.8,289.1" fill="none" stroke-width="1.22"/>
<polyline points="622.8,278.2 622.8,297.4" fill="none" stroke-width="1.22"/>
<polyline points="620.7,302.1 620.7,335.3" fill="none" stroke-width="1.10"/>
<polyline points="624.5,285.5 624.5,332.9" fill="none" stroke-width="1.10"/>
<path d="M591.1,279.6C592.7,278.6 591.9,277.6 595.8,276.7C599.8,275.7 599.0,275.5 602.9,276.7C606.9,277.8 604.5,277.3 607.7,280.2C610.8,283.2 609.3,281.0 612.4,285.5C615.6,290.1 614.3,289.4 617.2,293.8C620.0,298.3 619.7,297.2 620.9,298.8" fill="none" stroke-width="1.71"/>
<path d="M592.5,278.2C594.0,277.2 593.1,276.1 597.0,275.1C600.9,274.1 600.2,274.0 604.1,275.1C608.1,276.2 605.7,275.8 608.9,278.4C612.0,281.1 612.0,281.6 613.6,283.2" fill="none" stroke-width="1.10"/>
<path d="M602.9,284.4C604.5,283.8 604.5,282.2 607.7,282.6C610.8,283.0 610.0,283.4 612.4,285.5C614.8,287.7 614.0,287.9 614.8,289.1" fill="none" stroke-width="1.10"/>
<polyline points="620.9,298.8 622.8,295.0" fill="none" stroke-width="1.46"/>
<path d="M589.9,285.5C590.7,285.2 590.3,284.4 592.3,284.4C594.2,284.4 593.9,284.4 595.8,285.5C597.8,286.7 597.4,287.1 598.2,287.9" fill="none" stroke-width="1.10"/>
<path d="M540.1,295.0C541.9,295.8 541.5,295.0 545.5,297.4C549.4,299.8 547.4,298.2 552.0,302.1C556.5,306.1 555.1,304.8 559.1,309.2C563.1,313.7 562.4,313.3 564.1,315.4" fill="none" stroke-width="1.83"/>
<path d="M543.7,294.1C545.7,295.4 545.3,294.5 549.6,298.0C554.0,301.5 552.4,300.0 556.7,304.5C561.1,309.0 559.9,308.1 562.7,311.6C565.4,315.1 564.2,313.8 565.0,314.9" fill="none" stroke-width="1.22"/>
<path d="M538.4,296.8C540.1,299.0 539.9,298.4 543.7,303.3C547.4,308.3 546.5,306.5 549.6,311.6C552.8,316.7 551.2,314.0 553.2,318.7C555.2,323.5 554.4,318.7 555.5,325.8C556.7,332.9 556.3,335.3 556.7,340.0" fill="none" stroke-width="1.34"/>
<path d="M541.9,298.6C543.7,301.3 543.9,300.9 547.3,306.9C550.6,312.8 549.6,310.0 552.0,316.4C554.4,322.7 553.2,319.5 554.4,325.8C555.5,332.1 555.2,332.1 555.5,335.3" fill="none" stroke-width="1.10"/>
<polyline points="547.8,299.2 550.2,303.3" fill="none" stroke-width="1.10"/>
<polyline points="550.8,301.2 553.4,305.7" fill="none" stroke-width="1.10"/>
<polyline points="554.1,303.9 556.7,308.6" fill="none" stroke-width="1.10"/>
<polyline points="557.3,307.1 560.0,311.6" fill="none" stroke-width="1.10"/>
<polyline points="555.5,315.8 565.3,314.9" fill="none" stroke-width="1.10"/>
<path d="M593.5,250.0C594.6,252.4 593.9,252.8 597.0,257.1C600.2,261.5 598.6,258.7 602.9,263.0C607.3,267.4 606.1,265.3 610.0,270.1C614.0,275.0 613.2,275.0 614.8,277.5" fill="none" stroke-width="1.22"/>
<path d="M602.9,250.0C603.7,252.4 602.9,252.8 605.3,257.1C607.7,261.5 606.1,258.3 610.0,263.0C614.0,267.8 613.1,266.2 617.2,271.3C621.2,276.5 620.5,276.1 622.1,278.4" fill="none" stroke-width="1.22"/>
<path d="M623.1,284.4C625.1,288.7 625.5,288.3 629.0,297.4C632.6,306.5 631.0,302.1 633.7,311.6C636.5,321.1 635.6,317.9 637.3,325.8C639.0,333.7 638.2,332.1 638.7,335.3" fill="none" stroke-width="1.22"/>
<path d="M625.7,306.9C627.6,311.6 627.9,312.4 631.4,321.1C634.8,329.8 634.5,329.0 636.1,332.9" fill="none" stroke-width="0.98"/>
<polyline points="534.2,338.9 555.5,331.8" fill="none" stroke-width="0.98"/>
<polyline points="626.6,335.5 640.0,331.8" fill="none" stroke-width="0.98"/>
<polyline points="568.6,306.9 584.6,300.9" fill="none" stroke-width="0.85"/>
<polyline points="556.1,320.0 556.1,355.5" fill="none" stroke-width="1.34"/>
<polyline points="565.6,320.0 565.6,354.6" fill="none" stroke-width="1.34"/>
<polyline points="584.9,320.0 584.9,349.6" fill="none" stroke-width="1.34"/>
<polyline points="608.4,320.0 608.9,342.5" fill="none" stroke-width="1.34"/>
<polyline points="620.7,320.0 620.7,337.8" fill="none" stroke-width="1.10"/>
<polyline points="624.5,320.0 624.5,335.4" fill="none" stroke-width="1.10"/>
<polyline points="529.5,340.1 555.5,330.7" fill="none" stroke-width="0.98"/>
<polyline points="568.6,328.3 584.6,322.4" fill="none" stroke-width="0.98"/>
<path d="M547.3,320.0C548.8,325.1 548.0,324.7 552.0,335.4C555.9,346.1 555.9,345.3 559.1,352.0C562.3,358.7 560.7,354.4 561.5,355.5" fill="none" stroke-width="1.22"/>
<path d="M555.5,320.0C556.3,323.9 556.1,322.0 557.9,331.8C559.7,341.7 559.9,343.7 560.9,349.6" fill="none" stroke-width="0.98"/>
</g>
<g id="labels" font-family="Liberation Sans, sans-serif" font-weight="bold" font-size="26.8" fill="#111">
<text transform="translate(627.6,104.8) scale(0.7,1)">1</text>
<text transform="translate(416,201) scale(0.7,1)">1</text>
<text transform="translate(767.6,288.2) scale(0.7,1)">2</text>
<text transform="translate(756.6,356.6) scale(0.7,1)">3</text>
<text transform="translate(841.8,385.8) scale(0.7,1)">4</text>
<text transform="translate(762,539.8) scale(0.7,1)">5</text>
<text transform="matrix(0.44,-0.27,0,1,71.8,714.8)" font-size="18" stroke="#111" stroke-width="0.7">FWD</text>
</g>
</svg>
</body></html>
